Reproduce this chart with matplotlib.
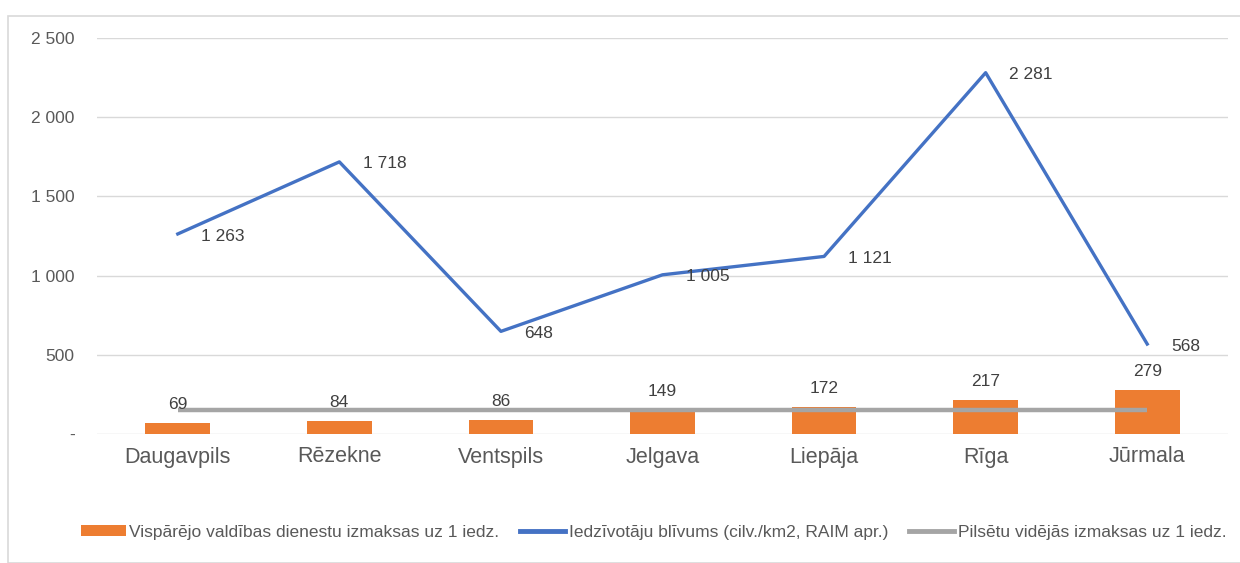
import matplotlib

matplotlib.use("Agg")
import matplotlib.pyplot as plt
from matplotlib.patches import Rectangle
from matplotlib.lines import Line2D
from matplotlib.patches import Patch

# data
cities = ["Daugavpils", "Rēzekne", "Ventspils", "Jelgava", "Liepāja", "Rīga", "Jūrmala"]
cost_per_resident = [69, 84, 86, 149, 172, 217, 279]
density = [1263, 1718, 648, 1005, 1121, 2281, 568]
average_cost = [151, 151, 151, 151, 151, 151, 151]
y_ticks = [0, 500, 1000, 1500, 2000, 2500]

ORANGE = "#ED7D31"
BLUE = "#4472C4"
GRAY = "#A5A5A5"
TEXT = "#595959"
LABEL = "#404040"


def fmt(v):
    if v == 0:
        return "-"
    return f"{v:,}".replace(",", " ")


plt.rcParams["font.family"] = ["Liberation Sans", "DejaVu Sans"]

fig = plt.figure(figsize=(12.4, 5.63), dpi=100)
fig.patches.append(
    Rectangle((8 / 1240, 0), 1.2, 1 - 16 / 563, transform=fig.transFigure,
              fill=False, edgecolor="#d9d9d9", linewidth=1.2)
)

ax = fig.add_axes([97 / 1240, 129 / 563, 1131 / 1240, 396 / 563])
x = list(range(len(cities)))

ax.bar(x, cost_per_resident, width=0.4, color=ORANGE, zorder=2)
ax.plot(x, average_cost, color=GRAY, linewidth=3.2, solid_capstyle="butt", zorder=3)
ax.plot(x, density, color=BLUE, linewidth=2.4, zorder=4)

for xi, v in zip(x, cost_per_resident):
    ax.annotate(fmt(v), (xi, v), xytext=(0, 8), textcoords="offset points",
                ha="center", va="bottom", fontsize=12.5, color=LABEL, zorder=5)
for xi, v in zip(x, density):
    ax.annotate(fmt(v), (xi, v), xytext=(17, -1.5), textcoords="offset points",
                ha="left", va="center", fontsize=12.5, color=LABEL, zorder=5)

ax.set_xlim(-0.5, len(cities) - 0.5)
ax.set_ylim(0, 2500)
ax.set_yticks(y_ticks)
ax.set_yticklabels([fmt(t) for t in y_ticks], fontsize=12.5, color=TEXT)
ax.set_xticks(x)
ax.set_xticklabels(cities, fontsize=15.5, color=TEXT)
ax.tick_params(axis="y", length=0, pad=16)
ax.tick_params(axis="x", length=0, pad=9)
ax.grid(axis="y", color="#d9d9d9", linewidth=1.0, zorder=0)
for spine in ax.spines.values():
    spine.set_visible(False)

handles = [
    Patch(facecolor=ORANGE, edgecolor="none"),
    Line2D([], [], color=BLUE, linewidth=3.5),
    Line2D([], [], color=GRAY, linewidth=3.5),
]
labels = [
    "Vispārējo valdības dienestu izmaksas uz 1 iedz.",
    "Iedzīvotāju blīvums (cilv./km2, RAIM apr.)",
    "Pilsētu vidējās izmaksas uz 1 iedz.",
]
fig.legend(handles, labels, loc="center", bbox_to_anchor=(0.527, 1 - 532 / 563), ncol=3,
           frameon=False, prop={"size": 12.5}, labelcolor=TEXT,
           handlelength=2.6, handleheight=0.55, handletextpad=0.2, columnspacing=1.2)

fig.savefig("out.png", dpi=100)
